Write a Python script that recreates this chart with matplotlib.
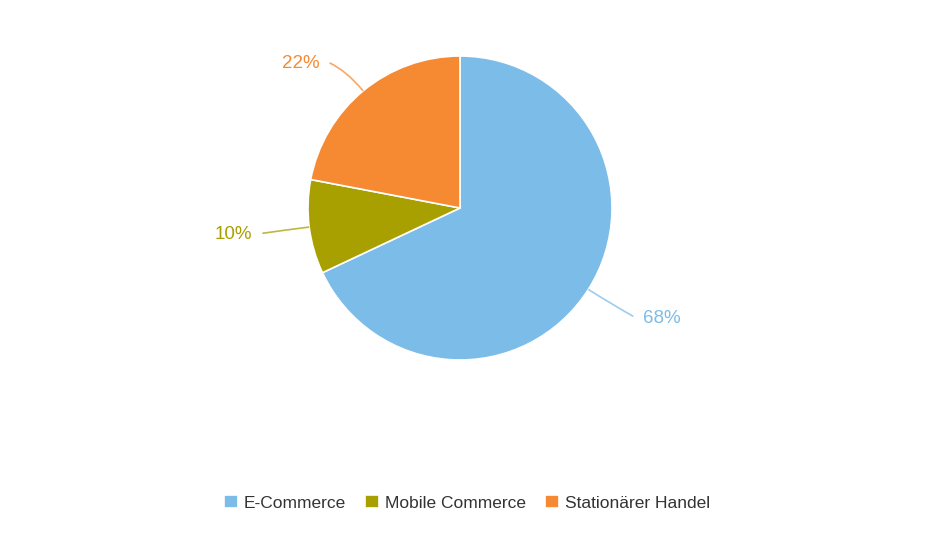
import numpy as np
import matplotlib
matplotlib.use("Agg")
import matplotlib.pyplot as plt
from matplotlib.path import Path
from matplotlib.patches import PathPatch

categories = ["E-Commerce", "Mobile Commerce", "Stationärer Handel"]
values = [68, 10, 22]
labels = ["68%", "10%", "22%"]
colors = ["#7cbce8", "#a8a000", "#f58a33"]

W, H = 944, 534
plt.rcParams['font.family'] = ['Liberation Sans', 'DejaVu Sans']
fig = plt.figure(figsize=(W / 100, H / 100), dpi=100)
ax = fig.add_axes([0, 0, 1, 1])

cx, cy, R = 460, H - 208, 152
wedges, _ = ax.pie(values, colors=colors, startangle=90, counterclock=False,
                   center=(cx, cy), radius=R,
                   wedgeprops=dict(edgecolor="white", linewidth=1.2))
ax.set_xlim(0, W)
ax.set_ylim(0, H)
ax.set_aspect('auto')
ax.axis('off')

for w, lab, col in zip(wedges, labels, colors):
    mid = np.deg2rad((w.theta1 + w.theta2) / 2)
    d = np.array([np.cos(mid), np.sin(mid)])
    p0 = np.array([cx, cy]) + R * d
    elbow = np.array([cx, cy]) + (R + 26) * d
    side = 1 if d[0] >= 0 else -1
    if side > 0:
        end = elbow + np.array([23, -13])
    elif d[1] < 0.3:
        end = elbow + np.array([-21, -3])
    else:
        end = elbow + np.array([-17, 8])
    path = Path([p0, elbow, end], [Path.MOVETO, Path.CURVE3, Path.CURVE3])
    ax.add_patch(PathPatch(path, facecolor="none", edgecolor=col, lw=1.2, alpha=0.75))
    ax.text(end[0] + side * 10, end[1] - (2 if side > 0 else 1), lab, color=col,
            fontsize=13.5, ha="left" if side > 0 else "right", va="center")

leg = fig.legend(wedges, categories, loc="center", ncol=3,
                 bbox_to_anchor=(467 / W, 1 - 503 / H), frameon=False,
                 fontsize=12.5, handlelength=0.8, handleheight=0.8,
                 handletextpad=0.35, columnspacing=1.1, labelcolor="#333333")

fig.savefig("out.png", dpi=100, facecolor="white")
